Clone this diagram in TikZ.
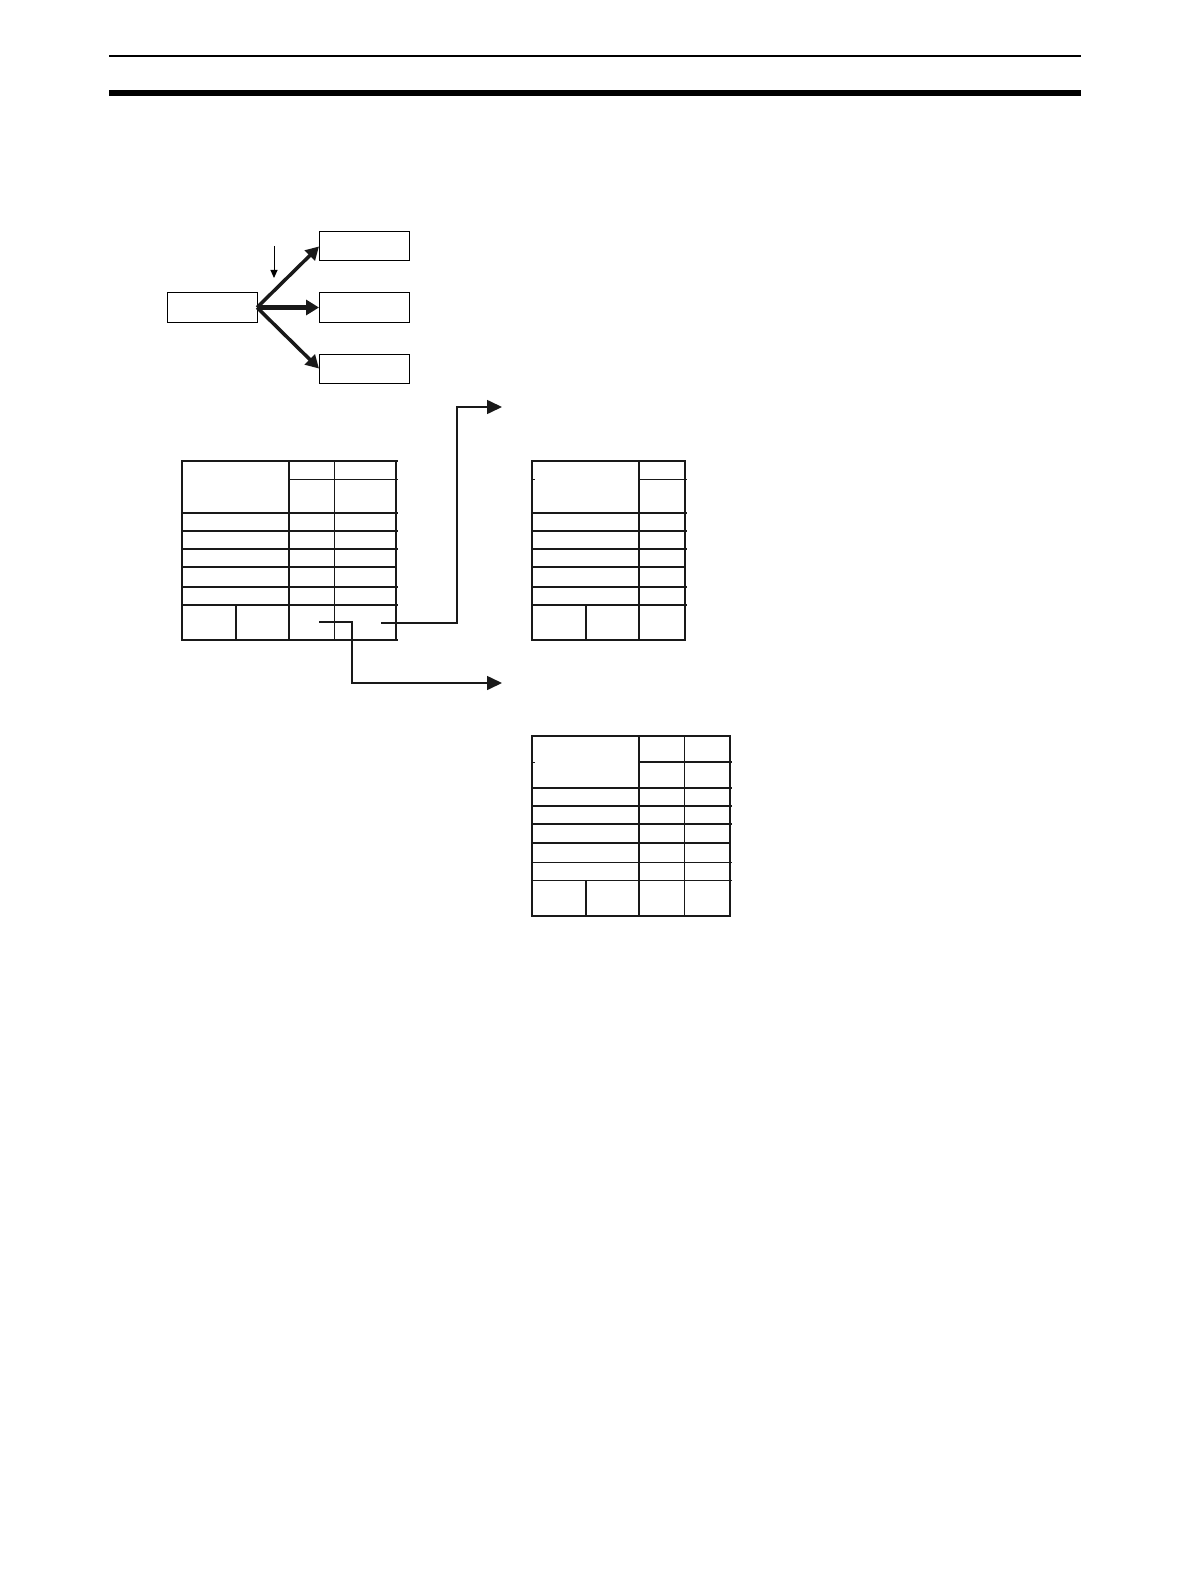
\documentclass[tikz,border=0pt]{standalone}
\usetikzlibrary{arrows.meta}
\begin{document}
\begin{tikzpicture}[x=1pt,y=-1pt,
  box/.style={draw=black,line width=1pt,minimum width=90pt,minimum height=29pt,inner sep=0pt,outer sep=0pt},
  fan/.style={draw=black!90,line width=3.5pt,-{Triangle[length=13pt,width=14pt]}},
  fanmid/.style={draw=black!90,line width=5pt,-{Triangle[length=13pt,width=15pt]}},
  small/.style={draw=black,line width=1pt,-{Triangle[length=8pt,width=7pt]}},
  conn/.style={draw=black!90,line width=1.6pt,-{Triangle[length=15pt,width=14pt]}},
  border/.style={draw=black!90,line width=1.6pt},
  rule/.style={draw=black!90,line width=1.3pt},
  thin/.style={draw=black!90,line width=0.8pt},
  heavy/.style={draw=black!90,line width=2.3pt}]
\useasboundingbox (0,0) rectangle (1190,1586);
% header rules
\draw[line width=2pt] (109,55.7) -- (1081,55.7);
\draw[line width=6pt] (109,93) -- (1081,93);
% fan-out boxes
\node[box] (src) at (212,307.5) {};
\node[box] (t1) at (364,246.5) {};
\node[box] (t2) at (364,307.5) {};
\node[box] (t3) at (364,368.5) {};
\draw[fan] (src.east) -- (t1.west);
\draw[fanmid] (src.east) -- (t2.west);
\draw[fan] (src.east) -- (t3.west);
\coordinate (m0) at (274,246);
\coordinate (m1) at (274,278);
\draw[small] (m0) -- (m1);
% table 1
\draw[border] (182,461) rectangle (396,640);
\draw[rule] (289,461) -- (289,640);
\draw[thin] (334,461) -- (334,640);
\draw[rule] (236,605) -- (236,640);
\draw[thin] (289,479) -- (398,479);
\foreach \y in {513,531,549,587,605} \draw[rule] (182,\y) -- (398,\y);
\draw[heavy] (182,567) -- (397,567);
\draw[rule] (396,461) -- (398,461);
\draw[rule] (396,640) -- (398,640);
% table 2
\draw[border] (532,461) rectangle (685,640);
\draw[rule] (639,461) -- (639,640);
\draw[rule] (586,605) -- (586,640);
\draw[thin] (639,479) -- (687,479);
\draw[thin] (532,479) -- (535,479);
\foreach \y in {513,531,549,587,605} \draw[rule] (532,\y) -- (687,\y);
\draw[heavy] (532,567) -- (686,567);
% table 3
\draw[border] (532,736) rectangle (730,916);
\draw[rule] (639,736) -- (639,916);
\draw[thin] (684,736) -- (684,916);
\draw[rule] (586,880) -- (586,916);
\draw[rule] (639,762) -- (732,762);
\draw[thin] (532,762) -- (535,762);
\foreach \y in {788,806,824} \draw[rule] (532,\y) -- (732,\y);
\foreach \y in {862,880} \draw[thin] (532,\y) -- (732,\y);
\draw[heavy] (532,843) -- (731,843);
% connectors
\coordinate (s1) at (319,622);
\coordinate (b1) at (352,683);
\coordinate (e1) at (502,683);
\coordinate (s2) at (381,623);
\coordinate (b2) at (457,407);
\coordinate (e2) at (502,407);
\draw[conn] (s1) -| (b1) -- (e1);
\draw[conn] (s2) -| (b2) -- (e2);
\end{tikzpicture}
\end{document}
